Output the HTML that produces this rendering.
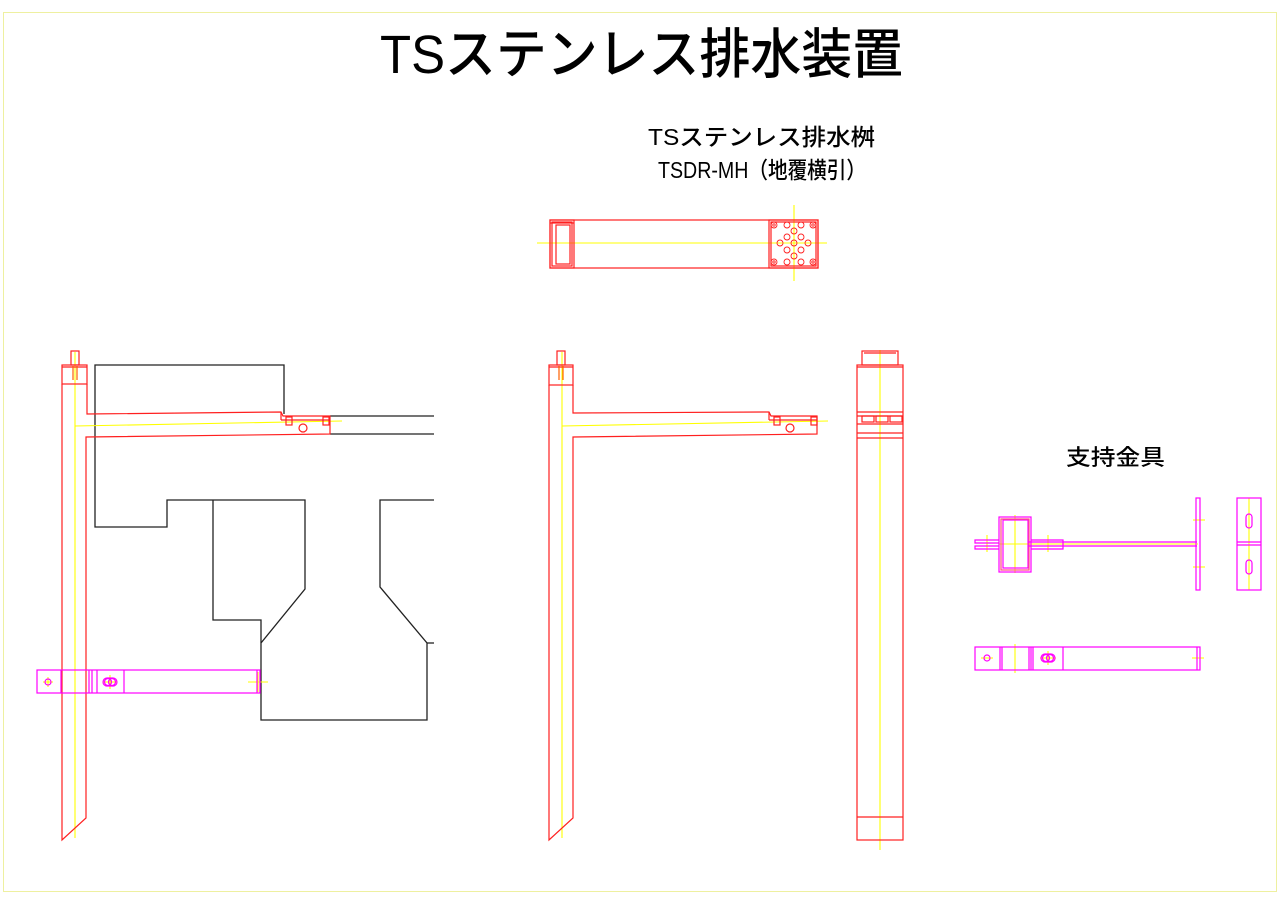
<!DOCTYPE html>
<html><head><meta charset="utf-8"><style>html,body{margin:0;padding:0;background:#fff}svg{display:block}</style></head>
<body>
<svg width="1280" height="904" viewBox="0 0 1280 904" xmlns="http://www.w3.org/2000/svg" font-family="'Liberation Sans','Noto Sans CJK JP',sans-serif">
<rect x="3.5" y="12.5" width="1273" height="879" fill="none" stroke="#eef0a0" stroke-width="1"/>
<text x="380" y="73" font-size="54" font-weight="500" textLength="523" lengthAdjust="spacingAndGlyphs" fill="#000">TSステンレス排水装置</text>
<text x="648" y="145" font-size="23" font-weight="500" textLength="227" lengthAdjust="spacingAndGlyphs" fill="#000">TSステンレス排水桝</text>
<text x="658" y="178" font-size="23" font-weight="500" textLength="208" lengthAdjust="spacingAndGlyphs" fill="#000">TSDR-MH（地覆横引）</text>
<text x="1066" y="465" font-size="22" font-weight="500" textLength="99" lengthAdjust="spacingAndGlyphs" fill="#000">支持金具</text>

<!-- black structure -->
<g fill="none" stroke="#222" stroke-width="1.3">
<polyline points="284,414 284,365 95,365 95,527 167,527 167,500 305,500 305,589 261,643 261,720 427,720 427,643 380,587 380,500 434,500"/>
<polyline points="213,500 213,620 261,620 261,643"/>
<line x1="427" y1="643" x2="434" y2="643"/>
<line x1="330" y1="416" x2="434" y2="416"/>
<line x1="330" y1="434" x2="434" y2="434"/>
</g>

<!-- yellow centerlines -->
<g stroke="#ffff00" stroke-width="1.1" fill="none">
<line x1="75" y1="352" x2="75" y2="838"/>
<line x1="75" y1="426" x2="342" y2="421"/>
<line x1="562" y1="352" x2="562" y2="838"/>
<line x1="562" y1="426" x2="828" y2="421"/>
<line x1="880" y1="350" x2="880" y2="850"/>
<line x1="537" y1="243" x2="827" y2="243"/>
<line x1="794" y1="205" x2="794" y2="281"/>
<line x1="248" y1="682" x2="268" y2="682"/><line x1="258" y1="672" x2="258" y2="692"/>
<line x1="43" y1="682" x2="53" y2="682"/><line x1="48" y1="677" x2="48" y2="687"/>
<line x1="103" y1="682" x2="117" y2="682"/><line x1="110" y1="675" x2="110" y2="689"/>
<line x1="1015" y1="515" x2="1015" y2="573"/><line x1="999" y1="544" x2="1198" y2="544"/>
<line x1="987" y1="535" x2="987" y2="552"/><line x1="1048" y1="535" x2="1048" y2="552"/>
<line x1="1193" y1="520" x2="1205" y2="520"/><line x1="1193" y1="567" x2="1205" y2="567"/>
<line x1="1249" y1="498" x2="1249" y2="590"/>
<line x1="1015" y1="644" x2="1015" y2="673"/>
<line x1="981" y1="658" x2="993" y2="658"/><line x1="1040" y1="658" x2="1056" y2="658"/><line x1="1048" y1="651" x2="1048" y2="665"/>
<line x1="1192" y1="658" x2="1204" y2="658"/>
</g>

<!-- red parts -->
<g fill="none" stroke="#ff2020" stroke-width="1.2">
<rect x="71" y="351" width="8" height="14"/>
<rect x="62" y="365" width="25" height="19"/>
<line x1="62" y1="367" x2="87" y2="367"/>
<path d="M73,366 L73,380 M77,366 L77,380" stroke="#ff6000"/>
<polyline points="62,384 62,840 86,818 86,437 330,434 330,416 283,416 281,412 87,414 87,384"/>
<line x1="281" y1="412" x2="281" y2="420"/><line x1="281" y1="420" x2="330" y2="420"/>
<rect x="286" y="417" width="6" height="8"/><rect x="323" y="417" width="6" height="8"/>
<circle cx="303" cy="428" r="4"/>
<rect x="557" y="351" width="8" height="14"/>
<rect x="549" y="365" width="24" height="20"/>
<line x1="549" y1="367" x2="573" y2="367"/>
<path d="M559,366 L559,380 M563,366 L563,380" stroke="#ff6000"/>
<polyline points="549,385 549,840 573,818 573,437 817,434 817,416 771,416 769,412 573,413 573,385"/>
<line x1="769" y1="412" x2="769" y2="420"/><line x1="769" y1="420" x2="817" y2="420"/>
<rect x="774" y="417" width="6" height="8"/><rect x="811" y="417" width="6" height="8"/>
<circle cx="790" cy="428" r="4"/>
<rect x="862" y="351" width="36" height="14"/>
<line x1="864" y1="353" x2="896" y2="353"/>
<rect x="857" y="365" width="46" height="475"/>
<line x1="857" y1="367" x2="903" y2="367"/>
<line x1="857" y1="412" x2="903" y2="412"/>
<line x1="857" y1="416" x2="903" y2="416"/>
<line x1="857" y1="424" x2="903" y2="424"/>
<rect x="862" y="416" width="12" height="6"/><rect x="876" y="416" width="12" height="6"/><rect x="890" y="416" width="12" height="6"/>
<line x1="857" y1="433" x2="903" y2="433"/>
<line x1="857" y1="438" x2="903" y2="438"/>
<line x1="857" y1="817" x2="903" y2="817"/>
<rect x="550" y="220" width="268" height="48"/>
<rect x="550" y="220" width="24" height="48"/>
<rect x="552" y="222" width="20" height="44"/>
<rect x="556" y="225" width="14" height="39"/>
<line x1="550" y1="223" x2="574" y2="223"/>
<rect x="769" y="220" width="49" height="48"/>
<rect x="771" y="222" width="45" height="44"/>
<g stroke-width="0.9">
<circle cx="774" cy="225" r="3"/><circle cx="774" cy="225" r="1.2"/>
<circle cx="813" cy="225" r="3"/><circle cx="813" cy="225" r="1.2"/>
<circle cx="774" cy="262" r="3"/><circle cx="774" cy="262" r="1.2"/>
<circle cx="813" cy="262" r="3"/><circle cx="813" cy="262" r="1.2"/>
<circle cx="787" cy="225" r="3"/><circle cx="801" cy="225" r="3"/>
<circle cx="787" cy="262" r="3"/><circle cx="801" cy="262" r="3"/>
<circle cx="794" cy="231" r="3"/><circle cx="794" cy="256" r="3"/>
<circle cx="787" cy="237" r="3"/><circle cx="801" cy="237" r="3"/>
<circle cx="787" cy="250" r="3"/><circle cx="801" cy="250" r="3"/>
<circle cx="780" cy="243" r="3"/><circle cx="808" cy="243" r="3"/>
<circle cx="794" cy="243" r="3"/>
</g>
</g>

<!-- magenta brackets -->
<g fill="none" stroke="#ff00ff" stroke-width="1.2">
<rect x="37" y="670" width="223" height="23"/>
<line x1="61" y1="670" x2="61" y2="693"/>
<line x1="89" y1="670" x2="89" y2="693"/><line x1="92" y1="670" x2="92" y2="693"/>
<line x1="97" y1="670" x2="97" y2="693"/><line x1="124" y1="670" x2="124" y2="693"/>
<line x1="257" y1="670" x2="257" y2="693"/>
<circle cx="48" cy="682" r="3"/>
<rect x="103" y="678" width="14" height="8" rx="4"/>
<circle cx="108" cy="682" r="3.5"/><circle cx="112" cy="682" r="3.5"/>
<rect x="999" y="517" width="32" height="55"/>
<rect x="1003" y="520" width="25" height="48"/>
<rect x="1001" y="519" width="28" height="51" stroke="#ff5080"/>
<polyline points="999,540 975,540 975,543 999,543"/>
<polyline points="999,546 975,546 975,549 999,549"/>
<polyline points="1031,540 1063,540 1063,549 1031,549"/>
<line x1="1028" y1="542" x2="1197" y2="542"/>
<line x1="1028" y1="546" x2="1197" y2="546"/>
<rect x="1196" y="498" width="4" height="92"/>
<rect x="1237" y="498" width="24" height="92"/>
<line x1="1237" y1="542" x2="1261" y2="542"/>
<line x1="1237" y1="545" x2="1261" y2="545"/>
<rect x="1246" y="514" width="6" height="14" rx="3"/>
<rect x="1246" y="560" width="6" height="14" rx="3"/>
<rect x="975" y="647" width="225" height="23"/>
<line x1="1000" y1="647" x2="1000" y2="670"/><line x1="1002" y1="647" x2="1002" y2="670"/>
<line x1="1029" y1="647" x2="1029" y2="670"/><line x1="1031" y1="647" x2="1031" y2="670"/>
<line x1="1033" y1="647" x2="1033" y2="670"/><line x1="1063" y1="647" x2="1063" y2="670"/>
<line x1="1197" y1="647" x2="1197" y2="670"/>
<circle cx="987" cy="658" r="3"/>
<rect x="1041" y="654" width="14" height="8" rx="4"/>
<circle cx="1046" cy="658" r="3.5"/><circle cx="1050" cy="658" r="3.5"/>
</g>
</svg>
</body></html>
